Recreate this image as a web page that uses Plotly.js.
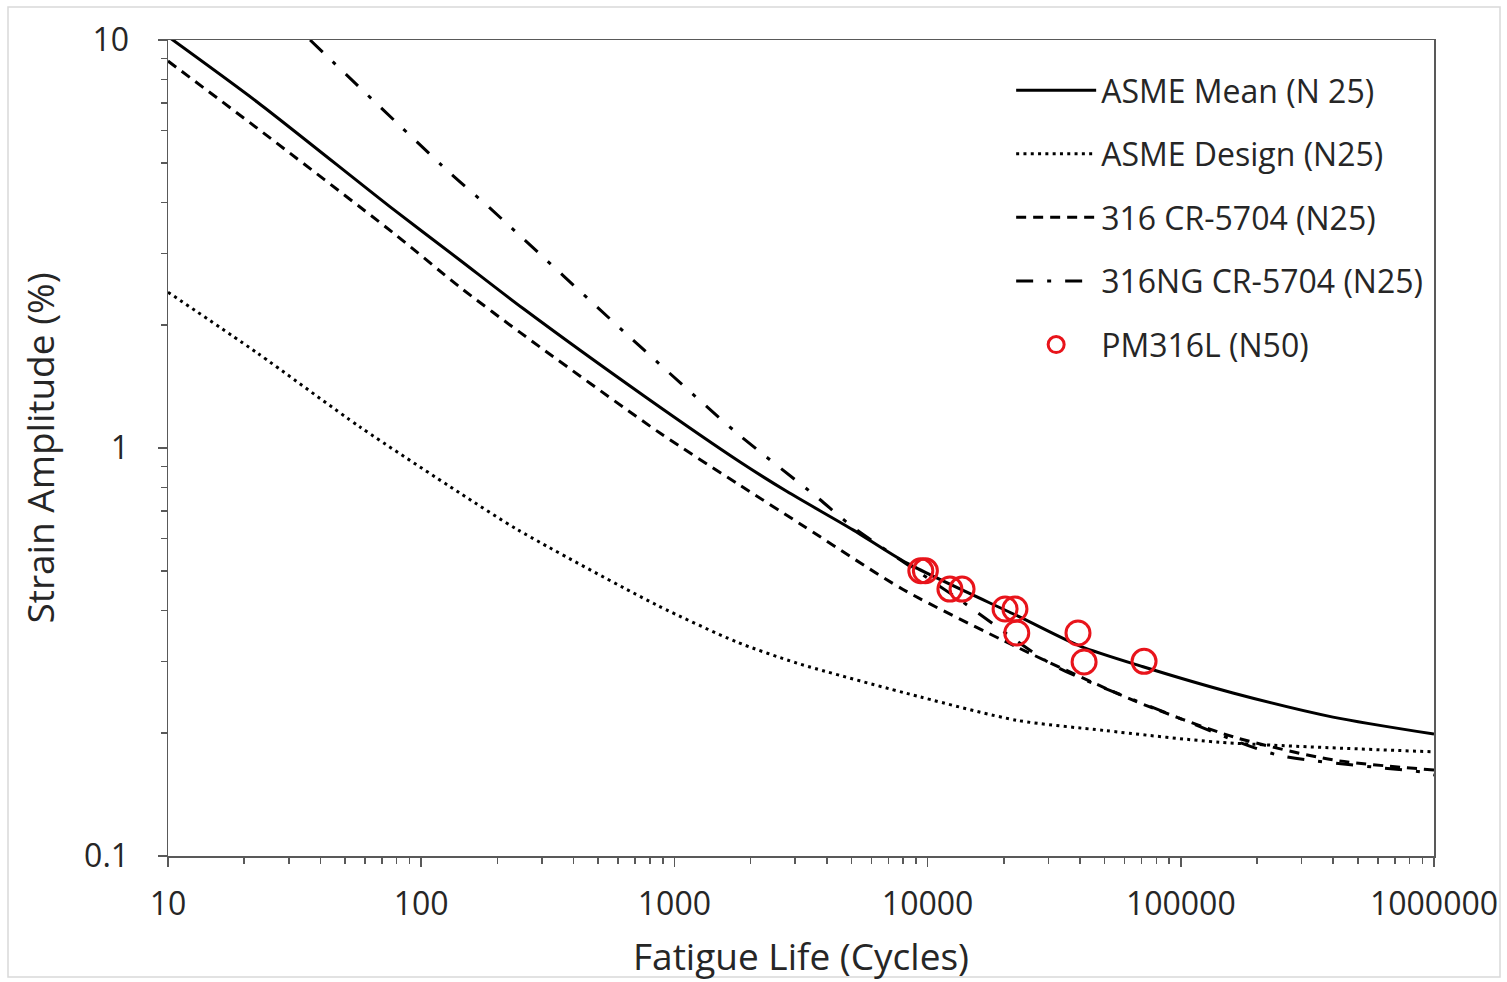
<!DOCTYPE html>
<html>
<head>
<meta charset="utf-8">
<script src="https://cdn.plot.ly/plotly-3.0.1.min.js"></script>
<style>
html,body{margin:0;padding:0;background:#fff;}
#chart{width:1507px;height:982px;}
</style>
</head>
<body>
<div id="chart"></div>
<script>
// ---- data ----
const asmeMeanN = [10, 22.5, 75.4, 142, 252, 779, 1817, 2785, 5075, 8290, 23190, 40000, 70960, 160700, 399000, 1000000];
const asmeMeanE = [10.2, 7.05, 3.90, 2.89, 2.20, 1.326, 0.924, 0.782, 0.630, 0.522, 0.385, 0.327, 0.291, 0.251, 0.219, 0.199];

const asmeDesignN = [10, 22.5, 57.3, 142, 241, 853, 1766, 3050, 9330, 22550, 50000, 143000, 1000000];
const asmeDesignE = [2.41, 1.71, 1.126, 0.776, 0.630, 0.412, 0.3345, 0.297, 0.2455, 0.215, 0.203, 0.190, 0.180];

const cr316N = [10, 22.5, 77.4, 142, 245.6, 877, 1817, 3222, 8000, 22550, 64700, 160700, 399000, 1000000];
const cr316E = [8.88, 6.08, 3.37, 2.48, 1.92, 1.088, 0.810, 0.645, 0.450, 0.325, 0.241, 0.196, 0.172, 0.1625];

const ng316N = [36.4, 130, 187, 686, 1766, 3656, 5070, 13430, 31270, 88200, 240000, 903000, 1000000];
const ng316E = [10, 4.72, 3.87, 1.84, 1.088, 0.758, 0.640, 0.424, 0.294, 0.224, 0.177, 0.1605, 0.158];

const pmN = [9400, 9800, 12250, 13680, 20230, 22130, 22500, 39260, 41500, 71600];
const pmE = [0.50, 0.50, 0.451, 0.451, 0.403, 0.403, 0.352, 0.352, 0.299, 0.300];

const xTickVals = [10, 100, 1000, 10000, 100000, 1000000];
const xTickText = ['10', '100', '1000', '10000', '100000', '1000000'];
const yTickVals = [0.1, 1, 10];
const yTickText = ['0.1', '1', '10'];

const names = ['ASME Mean (N 25)', 'ASME Design (N25)', '316 CR-5704 (N25)', '316NG CR-5704 (N25)', 'PM316L (N50)'];

// minor tick positions (2..9 within each decade)
const xMinor = [], yMinor = [];
for (let d = 1; d < 6; d++) for (let k = 2; k <= 9; k++) xMinor.push(k * Math.pow(10, d));
for (let d = -1; d < 1; d++) for (let k = 2; k <= 9; k++) yMinor.push(k * Math.pow(10, d));

const FONT = '"Open Sans", Lato, sans-serif';
const TXT = '#262626';
const AX = '#595959';

const traces = [
  {x: asmeMeanN, y: asmeMeanE, name: names[0], mode: 'lines', legendgroup: 'a',
   line: {color: '#000', width: 3, shape: 'spline', smoothing: 0.7}},
  {x: asmeDesignN, y: asmeDesignE, name: names[1], mode: 'lines', legendgroup: 'b',
   line: {color: '#000', width: 3, dash: '3px,4.3px', shape: 'spline', smoothing: 0.7}},
  {x: cr316N, y: cr316E, name: names[2], mode: 'lines', legendgroup: 'c',
   line: {color: '#000', width: 3, dash: '10px,7px', shape: 'spline', smoothing: 0.7}},
  {x: ng316N, y: ng316E, name: names[3], mode: 'lines', legendgroup: 'd',
   line: {color: '#000', width: 3, dash: '17px,14px,4px,14px', shape: 'spline', smoothing: 0.7}},
  {x: pmN, y: pmE, name: names[4], mode: 'markers', legendgroup: 'e',
   marker: {symbol: 'circle-open', size: 24, color: '#e8141b', line: {width: 3, color: '#e8141b'}}}
];

const layout = {
  width: 1507, height: 982,
  paper_bgcolor: '#fff', plot_bgcolor: '#fff',
  margin: {l: 168, r: 73, t: 40, b: 126},
  font: {family: FONT, size: 32, color: TXT},
  showlegend: true,
  legend: {
    x: 0.666, xanchor: 'left', y: 0.972, yanchor: 'top',
    bgcolor: 'rgba(0,0,0,0)', borderwidth: 0,
    font: {family: FONT, size: 32, color: TXT},
    traceorder: 'grouped', tracegroupgap: 19, itemwidth: 80
  },
  xaxis: {
    type: 'log', range: [1, 6],
    tickmode: 'array', tickvals: xTickVals, ticktext: xTickText,
    ticks: 'outside', ticklen: 9, tickwidth: 1.5, tickcolor: AX,
    ticklabelstandoff: 10,
    minor: {tickmode: 'array', tickvals: xMinor, ticks: 'outside', ticklen: 6, tickwidth: 1.5, tickcolor: AX, showgrid: false},
    showgrid: false, zeroline: false,
    showline: true, linecolor: AX, linewidth: 1.5, mirror: true,
    tickfont: {family: FONT, size: 32, color: TXT},
    title: {text: 'Fatigue Life (Cycles)', font: {family: FONT, size: 37, color: TXT}, standoff: 21}
  },
  yaxis: {
    type: 'log', range: [-1, 1],
    tickmode: 'array', tickvals: yTickVals, ticktext: yTickText,
    ticks: 'outside', ticklen: 9, tickwidth: 1.5, tickcolor: AX,
    ticklabelstandoff: 22,
    minor: {tickmode: 'array', tickvals: yMinor, ticks: 'outside', ticklen: 6, tickwidth: 1.5, tickcolor: AX, showgrid: false},
    showgrid: false, zeroline: false,
    showline: true, linecolor: AX, linewidth: 1.5, mirror: true,
    tickfont: {family: FONT, size: 32, color: TXT},
    title: {text: 'Strain Amplitude (%)', font: {family: FONT, size: 37, color: TXT}, standoff: 18}
  },
  shapes: [
    {type: 'rect', xref: 'paper', yref: 'paper',
     x0: (8 - 168) / 1266, x1: (1500 - 168) / 1266,
     y0: (856 - 977) / 816, y1: (856 - 7) / 816,
     line: {color: '#d9d9d9', width: 1.5}, fillcolor: 'rgba(0,0,0,0)', layer: 'below'}
  ]
};

Plotly.newPlot('chart', traces, layout, {displayModeBar: false, staticPlot: true});
</script>
</body>
</html>
